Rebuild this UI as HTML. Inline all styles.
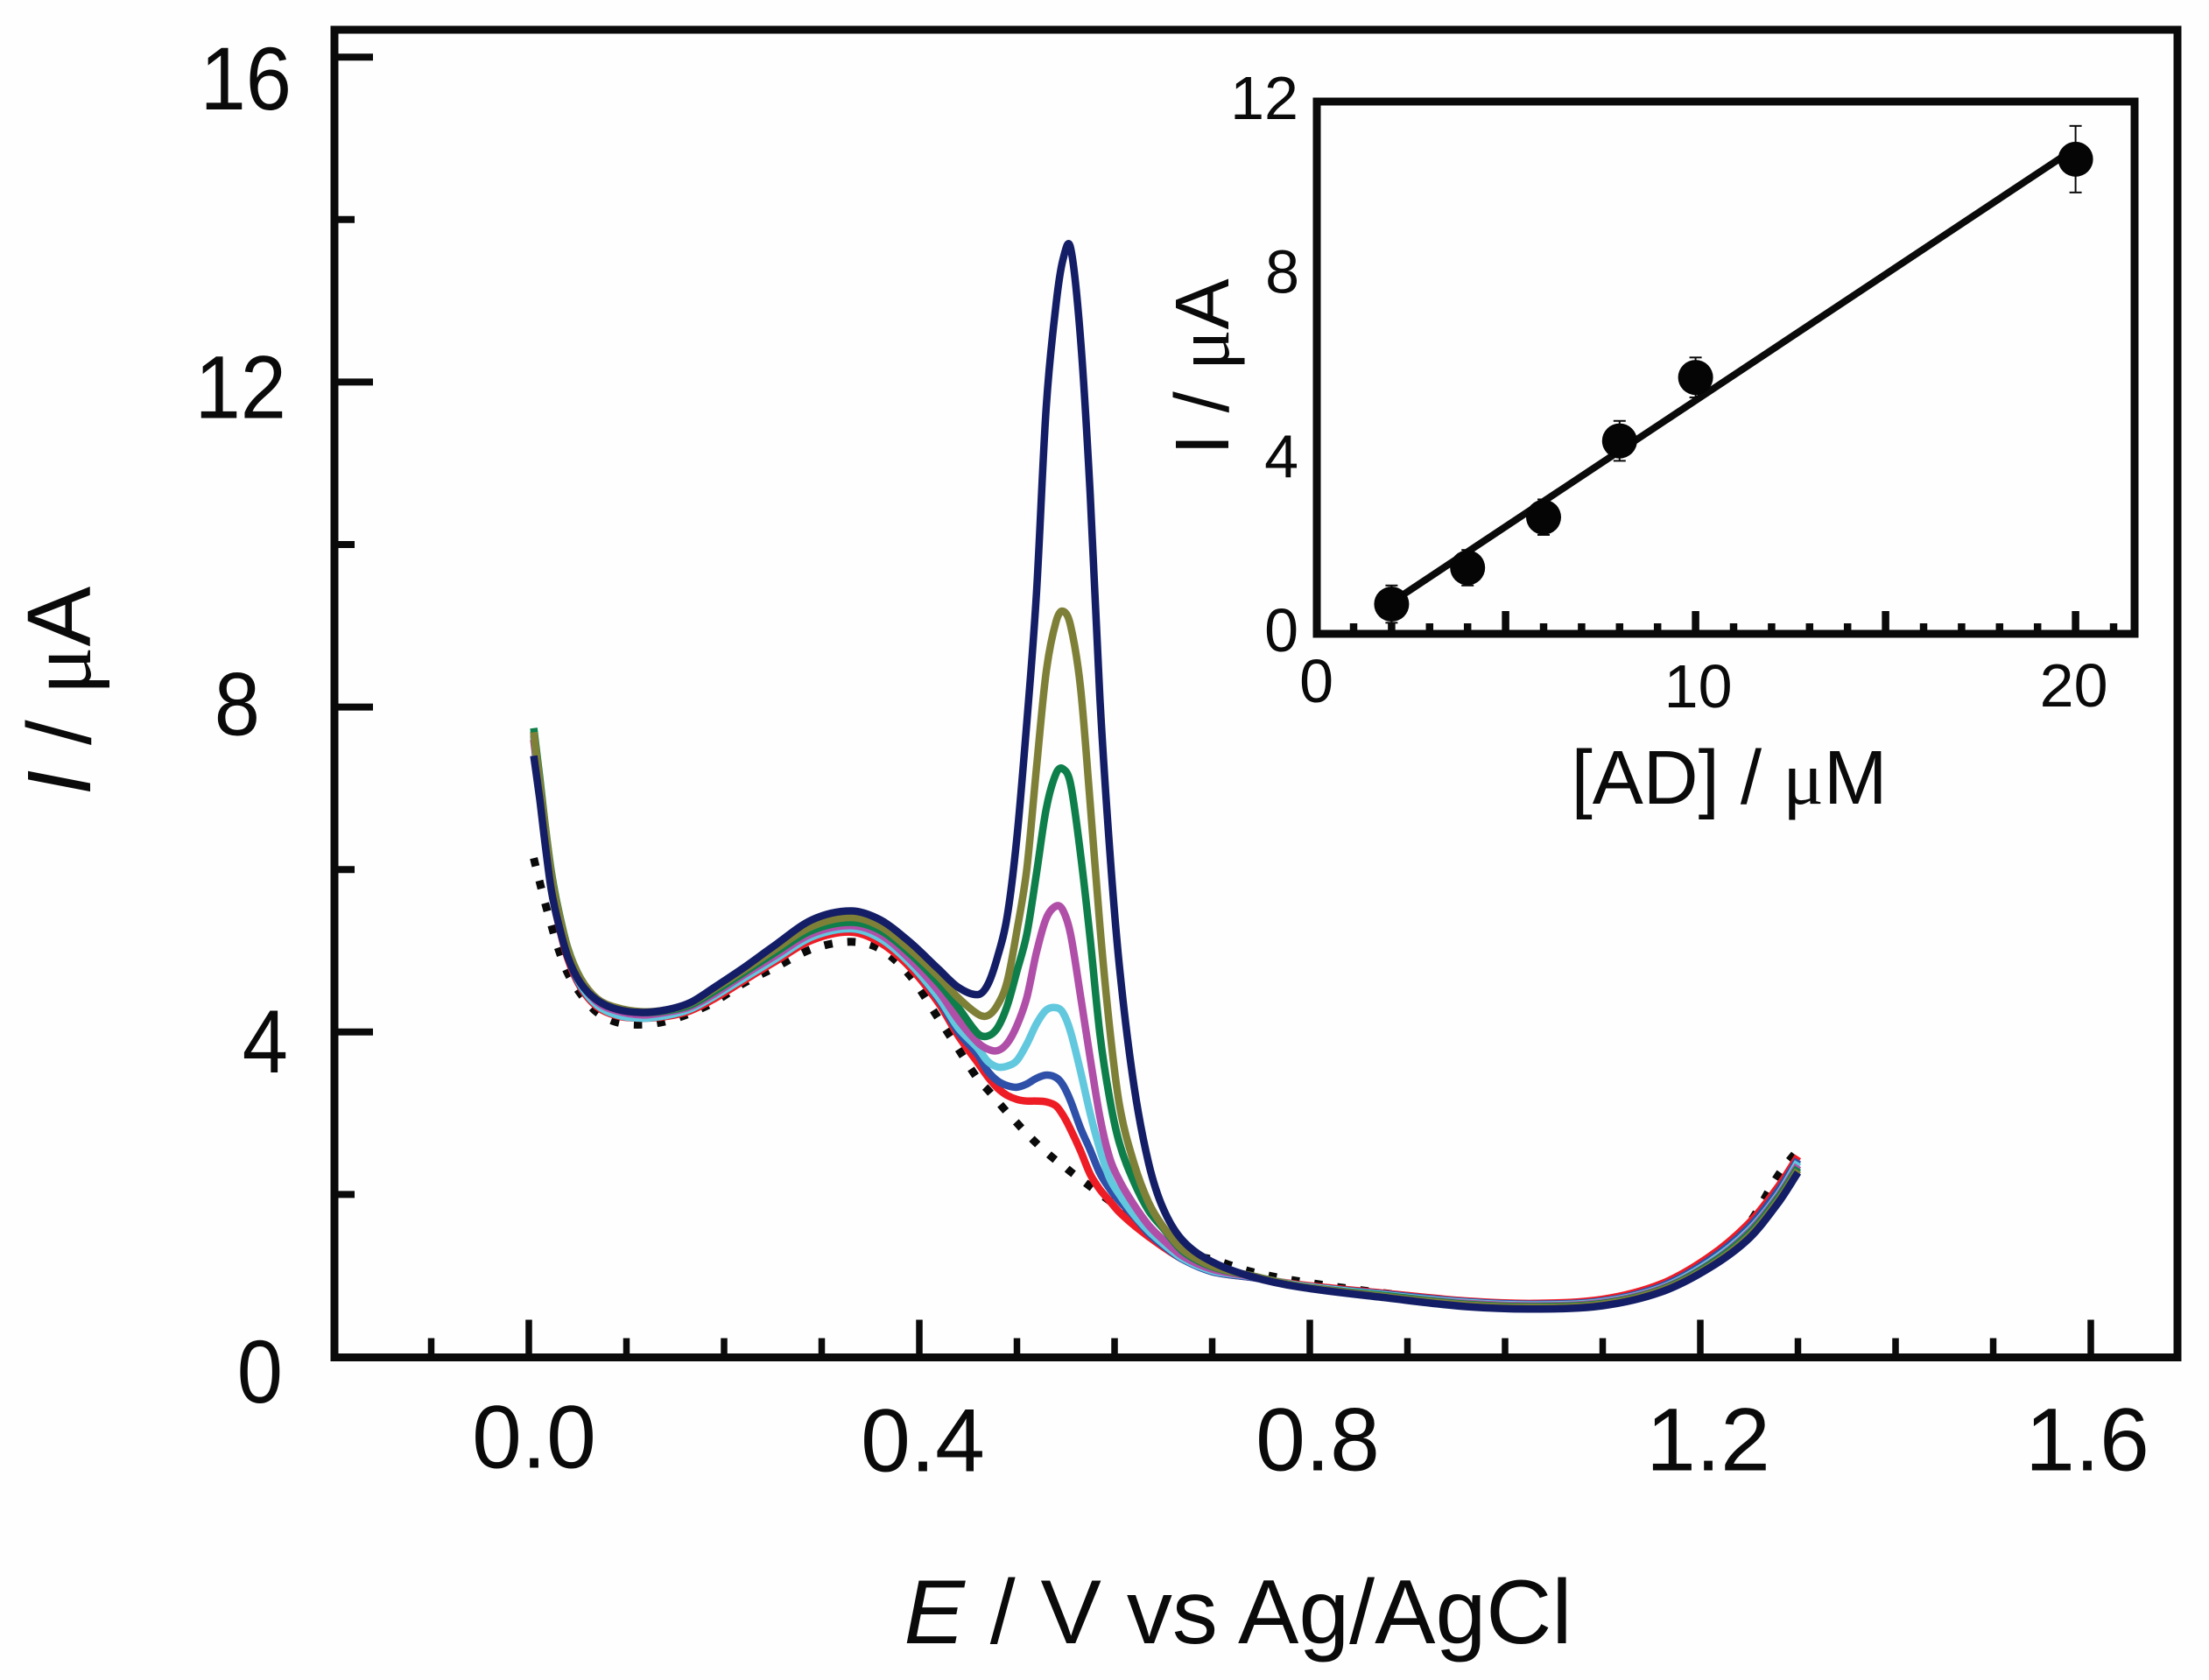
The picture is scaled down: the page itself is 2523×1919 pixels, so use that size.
<!DOCTYPE html>
<html lang="en">
<head>
<meta charset="utf-8">
<title>Voltammograms of AD with calibration inset</title>
<style>
html,body{margin:0;padding:0;background:#fff}
svg{display:block}
text{font-family:"Liberation Sans",Arial,sans-serif;fill:#0a0a0a}
</style>
</head>
<body>
<svg id="chart" xmlns="http://www.w3.org/2000/svg" width="2523" height="1919" viewBox="0 0 2523 1919">
<rect x="0" y="0" width="2523" height="1919" fill="#fefefe"/>
<g id="series-layer"></g>
<g id="main-axes"></g>
<g id="inset"></g>
<text x="1414" y="1877" text-anchor="middle" font-size="104"><tspan font-style="italic">E</tspan> / V vs Ag/AgCl</text>
<text transform="translate(103,789) rotate(-90)" text-anchor="middle" font-size="103"><tspan font-style="italic">I</tspan> / <tspan font-family="'Liberation Serif',serif">μ</tspan>A</text>
<text x="1975" y="918" text-anchor="middle" font-size="87">[AD] / <tspan font-family="'Liberation Serif',serif">μ</tspan>M</text>
<text transform="translate(1403,419) rotate(-90)" text-anchor="middle" font-size="87">I / <tspan font-family="'Liberation Serif',serif">μ</tspan>A</text>
</svg>
<script>
// ---- main plot data ----
const potentialV = [0.005,0.011,0.017,0.023,0.03,0.04,0.053,0.07,0.09,0.115,0.14,0.165,0.19,0.22,0.25,0.29,0.33,0.36,0.39,0.42,0.44,
  0.46,0.47,0.48,0.49,0.50,0.51,0.52,0.53,0.54,0.547,0.555,0.565,0.575,0.585,0.595,0.605,0.62,0.635,0.65,0.67,0.70,
  0.74,0.79,0.88,0.96,1.03,1.10,1.16,1.21,1.25,1.28,1.30];
const blankCurrent = [6.14,5.85,5.57,5.32,5.03,4.72,4.47,4.24,4.12,4.09,4.13,4.23,4.37,4.6,4.78,5.02,5.11,5.02,4.7,4.16,3.79,
  3.42,3.29,3.15,3.01,2.88,2.75,2.63,2.52,2.42,2.36,2.28,2.19,2.1,2.01,1.92,1.83,1.68,1.55,1.42,1.28,1.2,
  1.05,0.93,0.78,0.68,0.65,0.7,0.88,1.2,1.65,2.24,2.55];
const redCurrent = [7.6,7.0,6.35,5.8,5.35,4.9,4.55,4.31,4.2,4.17,4.19,4.26,4.41,4.63,4.85,5.13,5.23,5.1,4.8,4.35,3.95,
  3.62,3.45,3.31,3.22,3.17,3.15,3.15,3.14,3.09,2.98,2.8,2.54,2.25,2.06,1.92,1.78,1.62,1.48,1.35,1.2,1.05,
  0.98,0.89,0.78,0.69,0.66,0.71,0.9,1.24,1.65,2.1,2.47];
const blueCurrent = [7.65,7.0,6.38,5.83,5.38,4.93,4.57,4.33,4.21,4.17,4.2,4.28,4.44,4.66,4.88,5.17,5.27,5.15,4.85,4.4,4.0,
  3.72,3.52,3.4,3.34,3.32,3.36,3.43,3.47,3.44,3.35,3.15,2.82,2.55,2.26,2.07,1.92,1.73,1.52,1.37,1.2,1.05,
  0.98,0.88,0.77,0.68,0.65,0.69,0.87,1.2,1.6,2.05,2.43];
const cyanCurrent = [7.68,7.05,6.4,5.85,5.4,4.95,4.58,4.33,4.21,4.17,4.2,4.28,4.44,4.66,4.88,5.17,5.27,5.15,4.85,4.42,4.05,
  3.8,3.64,3.57,3.58,3.65,3.85,4.1,4.27,4.3,4.24,4.0,3.52,3.0,2.55,2.2,2.0,1.75,1.55,1.39,1.21,1.06,
  0.99,0.88,0.76,0.67,0.64,0.68,0.85,1.17,1.56,2.0,2.4];
const magentaCurrent = [7.7,7.1,6.45,5.9,5.45,4.98,4.62,4.37,4.26,4.21,4.24,4.31,4.47,4.7,4.92,5.21,5.31,5.2,4.9,4.5,4.15,
  3.87,3.79,3.77,3.86,4.08,4.42,4.98,5.4,5.55,5.5,5.2,4.45,3.68,2.95,2.45,2.17,1.87,1.62,1.44,1.24,1.08,
  0.99,0.87,0.75,0.66,0.63,0.67,0.84,1.15,1.54,1.98,2.36];
const greenCurrent = [7.74,7.15,6.52,5.98,5.52,5.03,4.66,4.4,4.29,4.24,4.26,4.33,4.5,4.73,4.96,5.25,5.35,5.25,4.97,4.6,4.3,
  3.98,3.95,4.05,4.32,4.75,5.2,5.95,6.75,7.18,7.24,7.05,6.2,5.15,3.97,3.18,2.63,2.15,1.8,1.58,1.3,1.11,
  1.0,0.87,0.75,0.65,0.62,0.66,0.83,1.14,1.52,1.96,2.33];
const oliveCurrent = [7.69,7.1,6.5,5.95,5.5,5.02,4.66,4.41,4.3,4.25,4.27,4.35,4.53,4.76,5.0,5.3,5.41,5.3,5.02,4.68,4.42,
  4.22,4.2,4.33,4.62,5.25,6.0,7.25,8.44,9.05,9.18,9.0,8.25,6.82,5.3,4.05,3.1,2.38,1.9,1.6,1.32,1.12,
  1.0,0.87,0.74,0.64,0.61,0.65,0.82,1.12,1.49,1.93,2.3];
const navyCurrent = [7.4,6.88,6.28,5.75,5.35,4.92,4.6,4.39,4.28,4.24,4.27,4.36,4.55,4.79,5.05,5.38,5.49,5.38,5.11,4.77,4.55,
  4.46,4.58,4.92,5.42,6.4,7.8,9.4,11.7,12.95,13.5,13.65,12.55,10.63,8.1,6.25,4.8,3.33,2.38,1.82,1.43,1.17,
  0.99,0.86,0.725,0.62,0.59,0.63,0.8,1.1,1.46,1.9,2.27];
const xMajorTicks = ["0.0","0.4","0.8","1.2","1.6"];
const xMinorTicks = [-0.1,0.1,0.2,0.3,0.5,0.6,0.7,0.9,1.0,1.1,1.3,1.4,1.5];
const yMajorTicks = ["0","4","8","12","16"];
const yMinorTicks = [2,6,10,14];

// ---- inset data ----
const concUM = [2,4,6,8,10,20];
const peakCurrent = [0.67,1.49,2.63,4.35,5.78,10.7];
const peakError = [0.42,0.4,0.4,0.45,0.45,0.75];
const fitConc = [2,20];
const fitCurrent = [0.71,10.95];
const insetXMajor = ["0","10","20"];
const insetXMajorUnlabelled = [5,15];
const insetXMinor = [1,2,3,4,6,7,8,9,11,12,13,14,16,17,18,19,21];
const insetYTicks = ["0","4","8","12"];

// ---- layout and axis functions ----
const SVGNS = "http://www.w3.org/2000/svg";
const X = e => 604 + e * 1115;
const Y = i => 1550 - i * 92.8;
const IX = c => 1502.6 + c * 43.4;
const IY = i => 724 - i * 50.67;
const frameLeft = 382, frameTop = 34, frameRight = 2487, frameBottom = 1550.5;
const insetLeft = 1504, insetTop = 116, insetRight = 2438, insetBottom = 724;
const yLabelNudge = {"0":[-60,52],"4":[-54,46],"8":[-86,32],"12":[-56,41],"16":[-50,60]};
const xLabelNudge = {"0.0":[6,126],"0.4":[4,130],"0.8":[9,129],"1.2":[9,129],"1.6":[-4,129]};
const insetYNudge = {"0":[1483,20],"4":[1483,24],"8":[1484,16],"12":[1483,20]};
const insetXNudge = {"0":[1,78],"10":[3,84],"20":[-2,83]};

function node(parent, tag) {
  const el = document.createElementNS(SVGNS, tag);
  parent.appendChild(el);
  return el;
}
function line(parent, x1, y1, x2, y2, w) {
  const el = node(parent, "line");
  el.setAttribute("x1", x1);
  el.setAttribute("y1", y1);
  el.setAttribute("x2", x2);
  el.setAttribute("y2", y2);
  el.setAttribute("stroke", "#0a0a0a");
  el.setAttribute("stroke-width", w);
  return el;
}
function label(parent, x, y, anchor, size, str) {
  const el = node(parent, "text");
  el.setAttribute("x", x);
  el.setAttribute("y", y);
  el.setAttribute("text-anchor", anchor);
  el.setAttribute("font-size", size);
  el.textContent = str;
  return el;
}
// smooth cubic path through pixel points (finite-difference tangents)
function smoothPath(xs, ys) {
  const n = xs.length, m = [];
  for (let i = 0; i < n; i++) {
    const a = Math.max(0, i - 1), b = Math.min(n - 1, i + 1);
    m[i] = (ys[b] - ys[a]) / (xs[b] - xs[a]);
  }
  let d = "M" + xs[0].toFixed(1) + "," + ys[0].toFixed(1);
  for (let i = 0; i < n - 1; i++) {
    const h = (xs[i + 1] - xs[i]) / 3;
    d += "C" + (xs[i] + h).toFixed(1) + "," + (ys[i] + m[i] * h).toFixed(1) + " " +
         (xs[i + 1] - h).toFixed(1) + "," + (ys[i + 1] - m[i + 1] * h).toFixed(1) + " " +
         xs[i + 1].toFixed(1) + "," + ys[i + 1].toFixed(1);
  }
  return d;
}

// ---- series ----
const seriesLayer = document.getElementById("series-layer");
function drawCurve(values, color, width, dash, name) {
  const el = node(seriesLayer, "path");
  el.setAttribute("d", smoothPath(potentialV.map(X), values.map(Y)));
  el.setAttribute("fill", "none");
  el.setAttribute("stroke", color);
  el.setAttribute("stroke-width", width);
  el.setAttribute("stroke-linejoin", "round");
  if (dash) el.setAttribute("stroke-dasharray", dash);
  
  
}
drawCurve(blankCurrent, "#0a0a0a", 9, "9.5 17", "curve-blank-dotted");
drawCurve(redCurrent, "#ee1c25", 8.5, null, "curve-red");
drawCurve(blueCurrent, "#2f50a8", 8.5, null, "curve-blue");
drawCurve(cyanCurrent, "#62c8de", 8.5, null, "curve-cyan");
drawCurve(magentaCurrent, "#b04fa8", 8.5, null, "curve-magenta");
drawCurve(greenCurrent, "#0e7f4a", 8.5, null, "curve-green");
drawCurve(oliveCurrent, "#7f8038", 8.5, null, "curve-olive");
drawCurve(navyCurrent, "#141e66", 8.5, null, "curve-navy");

// ---- main axes ----
const axes = document.getElementById("main-axes");
const frame = node(axes, "path");
frame.setAttribute("d", "M" + frameLeft + "," + frameBottom + "V" + frameTop + "H" + frameRight + "V" + frameBottom + "Z");
frame.setAttribute("fill", "none");
frame.setAttribute("stroke", "#0a0a0a");
frame.setAttribute("stroke-width", "9");



xMajorTicks.forEach(t => {
  const v = parseFloat(t);
  const tick = line(axes, X(v), frameBottom, X(v), frameBottom - 43, 7.5);
  
  
  const n = xLabelNudge[t] || [0, 129];
  const txt = label(axes, X(v) + n[0], frameBottom + n[1], "middle", 102, t);
  
  
});
xMinorTicks.forEach(v => {
  const tick = line(axes, X(v), frameBottom, X(v), frameBottom - 22, 7.5);
  
  
});
yMajorTicks.forEach(t => {
  const v = parseFloat(t);
  const tick = line(axes, frameLeft, Y(v), frameLeft + 44, Y(v), 8);
  
  
  const n = yLabelNudge[t] || [-50, 40];
  const txt = label(axes, 0, 0, "end", 102, t);
  txt.setAttribute("transform", "translate(" + (frameLeft + 1 + n[0]) + "," + (Y(v) + n[1]) + ") scale(0.92,1)");
  
  
});
yMinorTicks.forEach(v => {
  const tick = line(axes, frameLeft, Y(v), frameLeft + 23, Y(v), 8);
  
  
});

// ---- inset ----
const inset = document.getElementById("inset");
const insetFrame = node(inset, "rect");
insetFrame.setAttribute("x", insetLeft);
insetFrame.setAttribute("y", insetTop);
insetFrame.setAttribute("width", insetRight - insetLeft);
insetFrame.setAttribute("height", insetBottom - insetTop);
insetFrame.setAttribute("fill", "none");
insetFrame.setAttribute("stroke", "#0a0a0a");
insetFrame.setAttribute("stroke-width", "9");



insetXMajor.forEach(t => {
  const v = parseFloat(t);
  if (v > 0) {
    const tick = line(inset, IX(v), insetBottom, IX(v), insetBottom - 26, 8.5);
    
    
  }
  const n = insetXNudge[t] || [0, 82];
  const txt = label(inset, IX(v) + n[0], insetBottom + n[1], "middle", 70, t);
  
  
});
insetXMajorUnlabelled.forEach(v => {
  const tick = line(inset, IX(v), insetBottom, IX(v), insetBottom - 26, 8.5);
  
  
});
insetXMinor.forEach(v => {
  const tick = line(inset, IX(v), insetBottom, IX(v), insetBottom - 12, 8.5);
  
  
});
insetYTicks.forEach(t => {
  const v = parseFloat(t);
  const n = insetYNudge[t] || [1483, 20];
  const txt = label(inset, n[0], IY(v) + n[1], "end", 70, t);
  
  
});

const fitLine = line(inset, IX(fitConc[0]), IY(fitCurrent[0]), IX(fitConc[1]), IY(fitCurrent[1]), 8);



concUM.forEach((c, i) => {
  const top = IY(peakCurrent[i] + peakError[i]);
  const bottom = IY(peakCurrent[i] - peakError[i]);
  const bar = line(inset, IX(c), top, IX(c), bottom, 2);
  
  
  const capTop = line(inset, IX(c) - 7, top, IX(c) + 7, top, 2);
  
  
  const capBottom = line(inset, IX(c) - 7, bottom, IX(c) + 7, bottom, 2);
  
  
  const dot = node(inset, "circle");
  dot.setAttribute("cx", IX(c));
  dot.setAttribute("cy", IY(peakCurrent[i]));
  dot.setAttribute("r", 20);
  dot.setAttribute("fill", "#050505");
  
  
});
</script>
</body>
</html>
